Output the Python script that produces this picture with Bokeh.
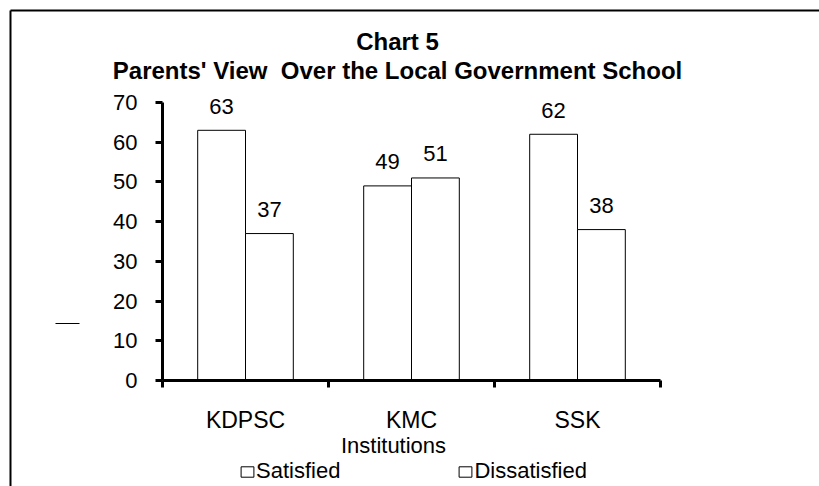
import numpy as np
from bokeh.plotting import figure
from bokeh.models import (Range1d, LinearAxis, FixedTicker, ColumnDataSource,
                          LabelSet, Label, Legend, LegendItem, Arrow)
from bokeh.transform import dodge
from bokeh.core.properties import value
from bokeh.embed import file_html
from bokeh.resources import INLINE

# ---- data -------------------------------------------------------------
institutions = ["KDPSC", "KMC", "SSK"]
satisfied = [63, 49, 62]
dissatisfied = [37, 51, 38]
series_names = ["Satisfied", "Dissatisfied"]
y_ticks = [0, 10, 20, 30, 40, 50, 60, 70]
# a non-breaking space keeps the double gap after "View" in SVG text
title_lines = ["Chart 5", "Parents' View\u00a0 Over the Local Government School"]
x_title = "Institutions"

FONT = "Liberation Sans"
W, H = 819, 486

# The frame spans the whole canvas; the axes are pinned inside it so that
# titles, legend and the outer border can all be drawn in data space.
PX_X = 166.0            # pixels per category
PX_Y = 278.0 / 70.0     # pixels per unit of value
ORIGIN = (162, 380)     # canvas position of (0, 0)
x_lo = -ORIGIN[0] / PX_X
y_hi = ORIGIN[1] / PX_Y
x_range = Range1d(x_lo, x_lo + W / PX_X)
y_range = Range1d(y_hi - H / PX_Y, y_hi)

p = figure(width=W, height=H, x_range=x_range, y_range=y_range,
           x_axis_type=None, y_axis_type=None,
           output_backend="svg", toolbar_location=None,
           min_border=0)
p.outline_line_color = None
p.background_fill_color = "white"
p.border_fill_color = "white"

# ---- axes ---------------------------------------------------------------
centers = np.arange(len(institutions)) + 0.5
bounds = list(range(len(institutions) + 1))

xaxis = LinearAxis(ticker=FixedTicker(ticks=list(centers), minor_ticks=bounds),
                   major_label_overrides={float(c): n for c, n in zip(centers, institutions)},
                   fixed_location=0, bounds=(0, len(institutions)))
xaxis.axis_line_width = 3
xaxis.axis_line_color = "black"
xaxis.major_tick_line_color = None
xaxis.major_tick_in = 0
xaxis.major_tick_out = 0
xaxis.minor_tick_in = 0
xaxis.minor_tick_out = 7
xaxis.minor_tick_line_width = 3
xaxis.minor_tick_line_color = "black"
xaxis.major_label_standoff = 19
xaxis.major_label_text_font = FONT
xaxis.major_label_text_font_size = "23px"
xaxis.major_label_text_color = "black"
p.add_layout(xaxis, "below")

yaxis = LinearAxis(ticker=FixedTicker(ticks=y_ticks, minor_ticks=[]),
                   fixed_location=0, bounds=(0, 70))
yaxis.axis_line_width = 3
yaxis.axis_line_color = "black"
yaxis.major_tick_in = 0
yaxis.major_tick_out = 7
yaxis.major_tick_line_width = 3
yaxis.major_tick_line_color = "black"
yaxis.minor_tick_line_color = None
yaxis.major_label_standoff = 18
yaxis.major_label_text_font = FONT
yaxis.major_label_text_font_size = "22px"
yaxis.major_label_text_color = "black"
p.add_layout(yaxis, "left")

# ---- bars -----------------------------------------------------------------
OFF, BW = 0.144, 0.288
src = ColumnDataSource(dict(
    x=centers, sat=satisfied, dis=dissatisfied,
    sat_lbl=[str(v) for v in satisfied],
    dis_lbl=[str(v) for v in dissatisfied],
))

r_sat = p.vbar(x=dodge("x", -OFF), top="sat", width=BW, source=src,
               fill_color="white", line_color="black", line_width=1)
r_dis = p.vbar(x=dodge("x", OFF), top="dis", width=BW, source=src,
               fill_color="white", line_color="black", line_width=1)

for key, off in (("sat", -OFF), ("dis", OFF)):
    p.add_layout(LabelSet(x=dodge("x", off), y=key, text=key + "_lbl",
                          source=src, y_offset=16.6,
                          text_align="center", text_baseline="alphabetic",
                          text_font=value(FONT), text_font_size="22px",
                          text_color="black"))

# ---- titles ---------------------------------------------------------------
p.add_layout(Label(x=1.4157, y=85.4, text=title_lines[0], text_align="center",
                   text_baseline="alphabetic", text_font=FONT, text_font_style="bold",
                   text_font_size="24px", text_color="black"))
p.add_layout(Label(x=1.4157, y=78.1, text=title_lines[1], text_align="center",
                   text_baseline="alphabetic", text_font=FONT, text_font_style="bold",
                   text_font_size="24px", text_color="black"))
p.add_layout(Label(x=1.3916, y=-16.4, text=x_title, text_align="center",
                   text_baseline="alphabetic", text_font=FONT,
                   text_font_size="22px", text_color="black"))

# ---- legend ---------------------------------------------------------------
legend = Legend(items=[LegendItem(label=series_names[0], renderers=[r_sat]),
                       LegendItem(label=series_names[1], renderers=[r_dis])],
                orientation="horizontal", location=(239, 2),
                glyph_width=16, glyph_height=13, label_standoff=1, spacing=117,
                padding=0, margin=0, border_line_color=None,
                background_fill_alpha=0,
                label_text_font=FONT, label_text_font_size="22px",
                label_text_color="black")
p.add_layout(legend)

# ---- chart-area frame and stray stroke -----------------------------------
p.add_layout(Arrow(end=None, x_start=-0.9157, y_start=93.17, x_end=-0.9157, y_end=-30,
                   line_color="black", line_width=2))
p.add_layout(Arrow(end=None, x_start=-0.9157, y_start=93.17, x_end=4.1, y_end=93.17,
                   line_color="black", line_width=2))
p.add_layout(Arrow(end=None, x_start=-0.6446, y_start=14.35, x_end=-0.5, y_end=14.35,
                   line_color="black", line_width=1))

open("out.html", "w").write(file_html(p, INLINE))
